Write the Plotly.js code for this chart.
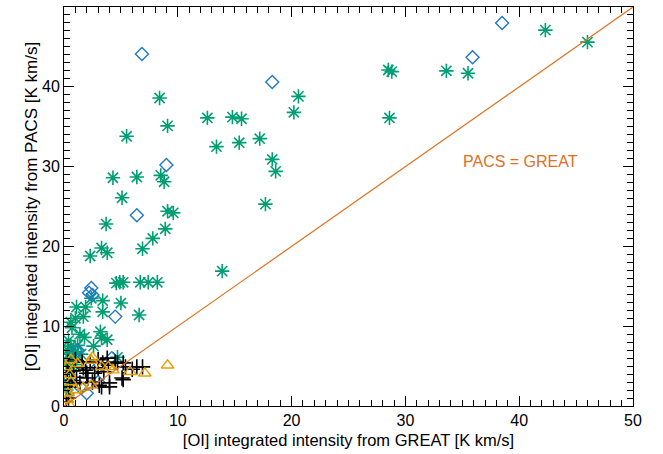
<!DOCTYPE html>
<html>
<head>
<meta charset="utf-8">
<script src="https://cdn.plot.ly/plotly-3.0.1.min.js"></script>
<style>html,body{margin:0;padding:0;background:#fff;}#chart{width:663px;height:454px;}</style>
</head>
<body>
<div id="chart"></div>
<script>
// Green asterisks
const greenX = [46.0,42.3,33.6,35.5,28.5,28.8,28.6,20.6,20.2,17.2,18.3,18.6,17.7,13.9,12.6,14.8,15.6,13.4,15.4,8.4,9.1,5.5,4.3,6.4,8.5,8.8,5.1,9.1,9.6,3.7,8.9,7.8,6.9,3.3,3.8,2.3,4.9,5.2,6.7,7.4,8.2,
  0.3,0.6,1.2,0.4,0.8,1.5,0.2,0.5,0.3,1.0,1.8,0.7,3.2,3.8,2.6,4.7,1.0,1.7,1.1,1.9,2.4,3.4,3.4,5.0,6.6,4.6,0.4,0.9,3.3,0.2,1.4,0.6];
const greenY = [45.6,47.1,42.0,41.7,42.1,41.9,36.1,38.8,36.8,33.5,30.9,29.4,25.3,16.9,36.1,36.2,36.0,32.5,33.0,38.6,35.1,33.8,28.6,28.7,28.9,28.1,26.1,24.4,24.2,22.8,22.2,21.0,19.7,19.8,19.2,18.8,15.5,15.5,15.5,15.5,15.5,
  7.0,7.5,7.6,6.5,6.0,6.5,5.5,4.5,3.0,6.8,8.6,9.8,9.3,8.3,7.5,6.1,11.0,11.2,12.4,12.4,13.5,13.2,11.8,12.9,11.4,15.4,8.2,5.2,8.5,2.0,9.0,10.5];
// Blue diamonds
const blueX = [38.5,35.9,18.3,6.85,9.0,6.4,2.4,2.5,4.5,1.2,4.2,3.0,2.0,1.5,3.0,0.5,0.3,2.2];
const blueY = [48.0,43.7,40.6,44.1,30.2,23.9,14.8,13.9,11.2,7.0,6.0,4.9,1.6,2.3,3.0,3.5,1.5,14.2];
// Black plus signs
const blackX = [1.0,1.6,2.3,3.0,3.8,4.5,5.2,5.4,6.0,6.4,6.9,5.1,4.0,3.3,2.0,1.7,2.1,2.7,3.0,3.5,0.35,1.1,1.4,0.5,3.9,3.4,5.2,4.0,0.7,0.4,0.2,0.3,1.9,2.5,0.8,4.7,3.1];
const blackY = [5.8,5.5,5.5,5.8,6.0,5.5,5.4,4.9,4.6,4.9,4.9,3.5,2.4,2.4,4.1,4.8,3.5,4.1,4.8,4.3,5.5,3.6,2.9,2.4,5.1,5.4,3.3,2.9,3.2,1.0,0.5,4.2,4.5,3.0,4.4,5.4,2.6];
// Orange triangles
const triX = [9.1,7.1,5.8,4.3,2.5,0.2,2.4,3.3,3.9,0.5,0.6,0.35,0.5,2.4,1.7,0.3,1.0,0.6,1.2];
const triY = [5.1,4.1,4.3,4.5,6.1,4.9,5.7,4.9,4.9,3.9,3.0,1.6,0.1,2.6,2.3,0.8,2.0,5.8,5.3];
// One-to-one line
const lineX = [0,50];
const lineY = [0,50];
const lineLabel = 'PACS = GREAT';
const axisRange = [0,50];
const minorVals = [];
for (let v = 1; v < 50; v++) { if (v % 10 !== 0) minorVals.push(v); }

const hidden = {type:'scatter',mode:'markers',marker:{size:1,color:'rgba(0,0,0,0)'},hoverinfo:'skip'};
const traces = [
  {x:greenX,y:greenY,type:'scatter',mode:'markers',marker:{symbol:'asterisk-open',size:12,color:'#009e73',line:{color:'#009e73',width:1.6}}},
  {x:blueX,y:blueY,type:'scatter',mode:'markers',marker:{symbol:'diamond-open',size:10,color:'#1f78c8',line:{color:'#1f78c8',width:1.4}}},
  {x:blackX,y:blackY,type:'scatter',mode:'markers',marker:{symbol:'cross-thin-open',size:11,color:'#000',line:{color:'#000',width:1.6}}},
  {x:triX,y:triY,type:'scatter',mode:'markers',marker:{symbol:'triangle-up-open',size:11,color:'#e69f00',line:{color:'#e69f00',width:1.4}}},
  {x:lineX,y:lineY,type:'scatter',mode:'lines',line:{color:'#e0701e',width:1.2}},
  Object.assign({x:lineX,y:lineY,xaxis:'x2',yaxis:'y2'}, hidden),
  Object.assign({x:lineX,y:lineY,xaxis:'x3',yaxis:'y3'}, hidden),
  Object.assign({x:lineX,y:lineY,xaxis:'x4',yaxis:'y4'}, hidden)
];

const fontFam = 'Liberation Sans, Arial, sans-serif';
const axBase = {
  range:axisRange, showgrid:true, gridcolor:'rgba(0,0,0,0)', zeroline:false, showline:true, linecolor:'#000',
  ticks:'inside', ticklen:10, tickcolor:'#000', dtick:10,
  minor:{ticks:'inside', ticklen:6, dtick:1, tickcolor:'black', tickwidth:1},
  tickfont:{family:fontFam, size:16, color:'#000'}
};
const minorAx = {
  range:axisRange, showgrid:true, gridcolor:'rgba(0,0,0,0)', zeroline:false, showline:false,
  ticks:'inside', ticklen:6, tickwidth:1, tickcolor:'black', tickmode:'array', tickvals:minorVals, showticklabels:false
};

const layout = {
  width:663, height:454,
  margin:{l:64, r:30, t:7, b:48},
  paper_bgcolor:'#fff', plot_bgcolor:'#fff',
  showlegend:false, hovermode:false,
  font:{family:fontFam, color:'#000'},
  xaxis:Object.assign({}, axBase, {title:{text:'[OI] integrated intensity from GREAT [K km/s]', font:{size:16.5, color:'#000'}, standoff:6}}),
  yaxis:Object.assign({}, axBase, {title:{text:'[OI] integrated intensity from PACS [K km/s]', font:{size:17, color:'#000'}, standoff:0}}),
  xaxis2:Object.assign({}, axBase, {overlaying:'x', side:'top', showticklabels:false}),
  yaxis2:Object.assign({}, axBase, {overlaying:'y', side:'right', showticklabels:false}),
  xaxis3:Object.assign({}, minorAx, {overlaying:'x', side:'bottom'}),
  yaxis3:Object.assign({}, minorAx, {overlaying:'y', side:'left'}),
  xaxis4:Object.assign({}, minorAx, {overlaying:'x', side:'top'}),
  yaxis4:Object.assign({}, minorAx, {overlaying:'y', side:'right'}),
  annotations:[{x:40.1, y:30.7, xref:'x', yref:'y', text:lineLabel, showarrow:false, font:{size:16, color:'#e0701e'}}]
};

Plotly.newPlot('chart', traces, layout, {displayModeBar:false});
</script>
</body>
</html>
